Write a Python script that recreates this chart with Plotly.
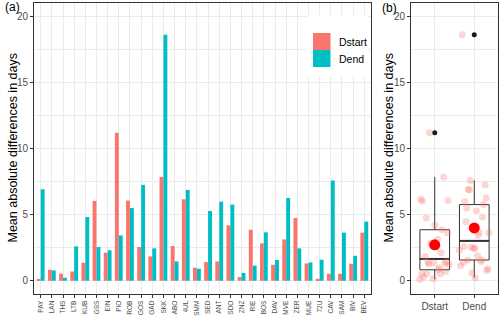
import numpy as np
import plotly.graph_objects as go

# ---------------- data ----------------
stations = ["PAY", "LAN", "THS", "LTB", "KUB", "GSS", "EIN", "PIO", "ROB", "GOS",
            "GAD", "SKK", "ABO", "4UL", "SMM", "SED", "ANT", "SDO", "ZNZ", "RIE",
            "BOS", "DAV", "MVE", "ZER", "MUE", "72U", "CAV", "SAM", "BIV", "BEV"]
dstart = [0.10, 0.83, 0.53, 0.70, 1.36, 6.04, 2.12, 11.20, 6.06, 2.55,
          1.84, 7.85, 2.63, 6.16, 0.98, 1.41, 1.46, 4.19, 0.28, 3.86,
          2.83, 1.21, 3.13, 4.75, 1.31, 0.15, 0.53, 0.53, 1.29, 3.64]
dend = [6.92, 0.78, 0.23, 2.60, 4.82, 2.55, 2.30, 3.43, 5.50, 7.25,
        2.45, 18.60, 1.46, 6.87, 0.91, 5.28, 5.98, 5.76, 0.60, 1.14,
        3.66, 1.57, 6.26, 2.45, 1.39, 1.59, 7.58, 3.64, 1.89, 4.47]
series_names = ["Dstart", "Dend"]
y_ticks = [0, 5, 10, 15, 20]

RED = "#F8766D"
TEAL = "#00BFC4"
GRID = "#EBEBEB"
BORDER = "#333333"
TICKTXT = "#4D4D4D"
FONT = "Liberation Sans, Arial, sans-serif"

W, H = 500, 317
def px(x):
    return x / W
def py(y):
    return 1 - y / H

fig = go.Figure()

# ---------- panel (a): grouped bars ----------
fig.add_trace(go.Bar(x=stations, y=dstart, name=series_names[0], marker=dict(color=RED, line=dict(width=0)),
                     xaxis="x", yaxis="y", showlegend=False))
fig.add_trace(go.Bar(x=stations, y=dend, name=series_names[1], marker=dict(color=TEAL, line=dict(width=0)),
                     xaxis="x", yaxis="y", showlegend=False))

# ---------- panel (b): boxplots ----------
groups = [dstart, dend]
for gi, vals in enumerate(groups):
    fig.add_trace(go.Box(x=[gi] * len(vals), y=vals, xaxis="x2", yaxis="y2",
                         width=0.75, fillcolor="white",
                         line=dict(color=BORDER, width=1),
                         whiskerwidth=0, boxpoints="outliers",
                         marker=dict(color="#1a1a1a", size=5),
                         quartilemethod="linear", showlegend=False, hoverinfo="skip"))
    med = float(np.median(vals))
    fig.add_trace(go.Scatter(x=[gi - 0.375, gi + 0.375], y=[med, med], mode="lines",
                             line=dict(color=BORDER, width=2), xaxis="x2", yaxis="y2",
                             showlegend=False, hoverinfo="skip"))

# deterministic jitter of the individual values
for gi, vals in enumerate(groups):
    n = len(vals)
    offs = [0.38 * (((i * 0.61803398875 + gi * 0.3) % 1.0) * 2 - 1) for i in range(n)]
    fig.add_trace(go.Scatter(x=[gi + o for o in offs], y=vals, mode="markers",
                             marker=dict(color="rgba(248,118,109,0.3)", size=7, line=dict(width=0)),
                             xaxis="x2", yaxis="y2", showlegend=False, hoverinfo="skip"))

# means
fig.add_trace(go.Scatter(x=[0, 1], y=[float(np.mean(dstart)), float(np.mean(dend))], mode="markers",
                         marker=dict(color="#FF0000", size=11, line=dict(width=0)),
                         xaxis="x2", yaxis="y2", showlegend=False, hoverinfo="skip"))

axis_common = dict(showline=True, mirror=True, linecolor=BORDER, linewidth=1,
                   ticks="outside", ticklen=3, tickwidth=1, tickcolor=BORDER,
                   zeroline=False, automargin=False, showgrid=True, gridcolor=GRID, gridwidth=1.1)

ydom = [py(294), py(3)]

fig.update_layout(
    template="none",
    width=W, height=H,
    margin=dict(l=0, r=0, t=0, b=0),
    paper_bgcolor="white", plot_bgcolor="white",
    font=dict(family=FONT, color="black"),
    barmode="group", bargap=0.3, bargroupgap=0,
    boxmode="overlay",
    showlegend=False,
    xaxis=dict(domain=[px(34), px(371)], anchor="y", type="category",
               range=[-0.6, len(stations) - 0.4], tickangle=-90,
               tickfont=dict(size=6.5, color=TICKTXT, family=FONT), **axis_common),
    yaxis=dict(domain=ydom, anchor="x", range=[-1, 21], tickvals=y_ticks,
               tickfont=dict(size=10, color=TICKTXT, family=FONT),
               minor=dict(dtick=2.5, tick0=0, showgrid=True, gridcolor=GRID, gridwidth=0.6, ticks=""),
               **axis_common),
    xaxis2=dict(domain=[px(411), px(498)], anchor="y2", range=[-0.6, 1.6],
                tickvals=[0, 1], ticktext=series_names,
                tickfont=dict(size=10, color=TICKTXT, family=FONT), **axis_common),
    yaxis2=dict(domain=ydom, anchor="x2", range=[-1, 21], tickvals=y_ticks,
                tickfont=dict(size=10, color=TICKTXT, family=FONT),
                minor=dict(dtick=2.5, tick0=0, showgrid=True, gridcolor=GRID, gridwidth=0.6, ticks=""),
                **axis_common),
)

# custom legend inside panel (a)
shapes = [
    dict(type="rect", xref="paper", yref="paper", x0=px(307), x1=px(368), y0=py(76), y1=py(15),
         fillcolor="white", line=dict(width=0), layer="above"),
    dict(type="rect", xref="paper", yref="paper", x0=px(313), x1=px(330.5), y0=py(50), y1=py(33),
         fillcolor=RED, line=dict(width=0), layer="above"),
    dict(type="rect", xref="paper", yref="paper", x0=px(313), x1=px(330.5), y0=py(67), y1=py(50),
         fillcolor=TEAL, line=dict(width=0), layer="above"),
]
fig.update_layout(shapes=shapes)

ann = [
    dict(text=series_names[0], x=px(337), y=py(42), xanchor="left", yanchor="middle"),
    dict(text=series_names[1], x=px(337), y=py(59), xanchor="left", yanchor="middle"),
]
annotations = []
for a in ann:
    annotations.append(dict(xref="paper", yref="paper", showarrow=False,
                            font=dict(size=10.5, color="black", family=FONT), **a))
annotations += [
    dict(text="(a)", x=px(3), y=py(7.5), xref="paper", yref="paper", showarrow=False,
         xanchor="left", yanchor="middle", font=dict(size=12, color="black", family=FONT)),
    dict(text="(b)", x=px(380), y=py(8), xref="paper", yref="paper", showarrow=False,
         xanchor="left", yanchor="middle", font=dict(size=12, color="black", family=FONT)),
    dict(text="Mean absolute differences in days", x=px(12), y=py(148.5), xref="paper", yref="paper",
         showarrow=False, textangle=-90, xanchor="center", yanchor="middle",
         font=dict(size=12.5, color="black", family=FONT)),
    dict(text="Mean absolute differences in days", x=px(388), y=py(148.5), xref="paper", yref="paper",
         showarrow=False, textangle=-90, xanchor="center", yanchor="middle",
         font=dict(size=12.5, color="black", family=FONT)),
]
fig.update_layout(annotations=annotations)

fig.write_html("out.html", config={"displayModeBar": False},
               post_script="document.body.style.margin='0px';document.body.style.padding='0px';")
